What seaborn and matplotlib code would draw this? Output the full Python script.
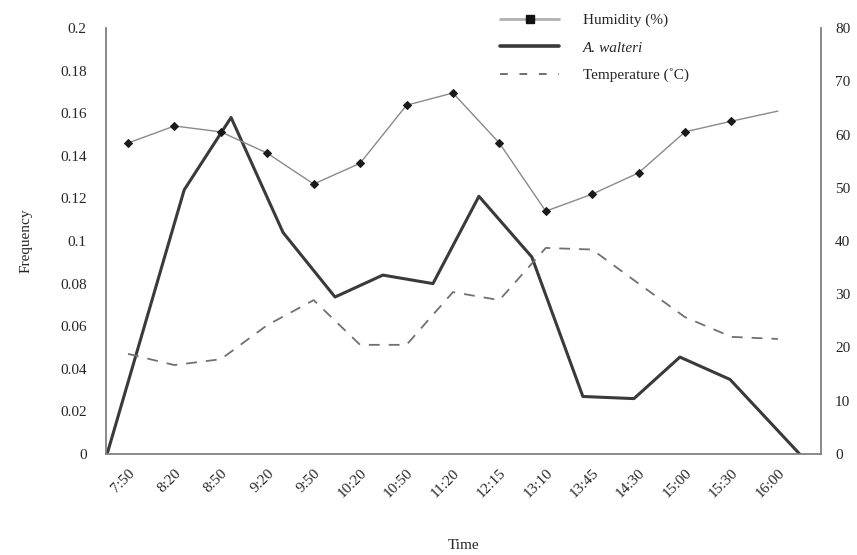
import numpy as np
import pandas as pd
import matplotlib
matplotlib.use("Agg")
import matplotlib.pyplot as plt
from matplotlib.lines import Line2D
import seaborn as sns

# ---- data ----
times = ["7:50", "8:20", "8:50", "9:20", "9:50", "10:20", "10:50", "11:20",
         "12:15", "13:10", "13:45", "14:30", "15:00", "15:30", "16:00"]
humidity = [58.4, 61.6, 60.5, 56.5, 50.7, 54.6, 65.5, 67.8, 58.4, 45.6,
            48.8, 52.8, 60.5, 62.5, 64.4]
temperature = [18.8, 16.7, 17.8, 24.2, 28.9, 20.5, 20.5, 30.4, 28.9, 38.7,
               38.4, 32.0, 25.7, 22.0, 21.6]
# A. walteri frequency series (its own x positions, in category units)
freq_pos = [-0.45, 1.21, 2.22, 3.34, 4.46, 5.49, 6.57, 7.56, 8.70, 9.80,
            10.90, 11.89, 12.97, 14.47]
frequency = [0.0, 0.124, 0.158, 0.104, 0.0737, 0.084, 0.080, 0.121, 0.0925,
             0.027, 0.026, 0.0455, 0.035, 0.0]
left_ticks = [0, 0.02, 0.04, 0.06, 0.08, 0.1, 0.12, 0.14, 0.16, 0.18, 0.2]
left_labels = ["0", "0.02", "0.04", "0.06", "0.08", "0.1", "0.12", "0.14",
               "0.16", "0.18", "0.2"]
right_ticks = [0, 10, 20, 30, 40, 50, 60, 70, 80]

sns.set_theme(style="white")
plt.rcParams["font.family"] = ["Liberation Serif", "DejaVu Serif"]

df_main = pd.DataFrame({"pos": np.arange(len(times)), "hum": humidity, "temp": temperature})
df_freq = pd.DataFrame({"pos": freq_pos, "freq": frequency})

fig = plt.figure(figsize=(8.57, 5.55), dpi=100)
ax = fig.add_axes([0.1237, 0.182, 0.958 - 0.1237, 0.9495 - 0.182])
ax2 = ax.twinx()

sns.lineplot(data=df_freq, x="pos", y="freq", ax=ax, color="#3a3a3a",
             linewidth=2.2, sort=False)
sns.lineplot(data=df_main, x="pos", y="temp", ax=ax2, color="#707070",
             linewidth=1.3, dashes=False, linestyle=(0, (6, 5)))
sns.lineplot(data=df_main, x="pos", y="hum", ax=ax2, color="#8a8a8a",
             linewidth=1.0, marker="D", markersize=4.5,
             markerfacecolor="#1a1a1a", markeredgecolor="#1a1a1a",
             markevery=list(range(len(times) - 1)))

xlim = (-0.474, 14.93)
ax.set_xlim(*xlim)
ax2.set_xlim(*xlim)
ax.set_ylim(0, 0.2)
ax2.set_ylim(0, 80)

ax.set_xticks(np.arange(len(times)))
ax.set_xticklabels(times, rotation=45, ha="right", rotation_mode="anchor", fontsize=11)
ax.set_yticks(left_ticks)
ax.set_yticklabels(left_labels, fontsize=11)
ax2.set_yticks(right_ticks)
ax2.set_yticklabels([str(t) for t in right_ticks], fontsize=11)

ax.tick_params(axis="x", length=0, pad=9)
ax.tick_params(axis="y", length=0, pad=14)
ax2.tick_params(axis="y", length=0, pad=10)

ax.set_xlabel("Time", fontsize=11, labelpad=28)
ax.set_ylabel("Frequency", fontsize=11, labelpad=20)
ax2.set_ylabel("")

for a in (ax, ax2):
    a.grid(False)
    a.spines["top"].set_visible(False)
    for s in ("left", "bottom", "right"):
        a.spines[s].set_color("#808080")
        a.spines[s].set_linewidth(1.3)
ax.spines["right"].set_visible(False)
ax2.spines["left"].set_visible(False)
ax2.spines["bottom"].set_visible(False)

handles = [
    Line2D([], [], color="#b0b0b0", linewidth=2.0, marker="s", markersize=6,
           markerfacecolor="#111111", markeredgecolor="#111111"),
    Line2D([], [], color="#3a3a3a", linewidth=2.6),
    Line2D([], [], color="#707070", linewidth=1.4, linestyle=(0, (4, 6))),
]
labels = ["Humidity (%)", "A. walteri", "Temperature (\u02daC)"]
leg = fig.legend(handles, labels, loc="upper left", bbox_to_anchor=(0.584, 0.976),
                 frameon=False, fontsize=11, handlelength=3.8, handletextpad=1.6,
                 labelspacing=0.9, borderpad=0, borderaxespad=0)
leg.get_texts()[1].set_style("italic")

fig.savefig("out.png", dpi=100)
